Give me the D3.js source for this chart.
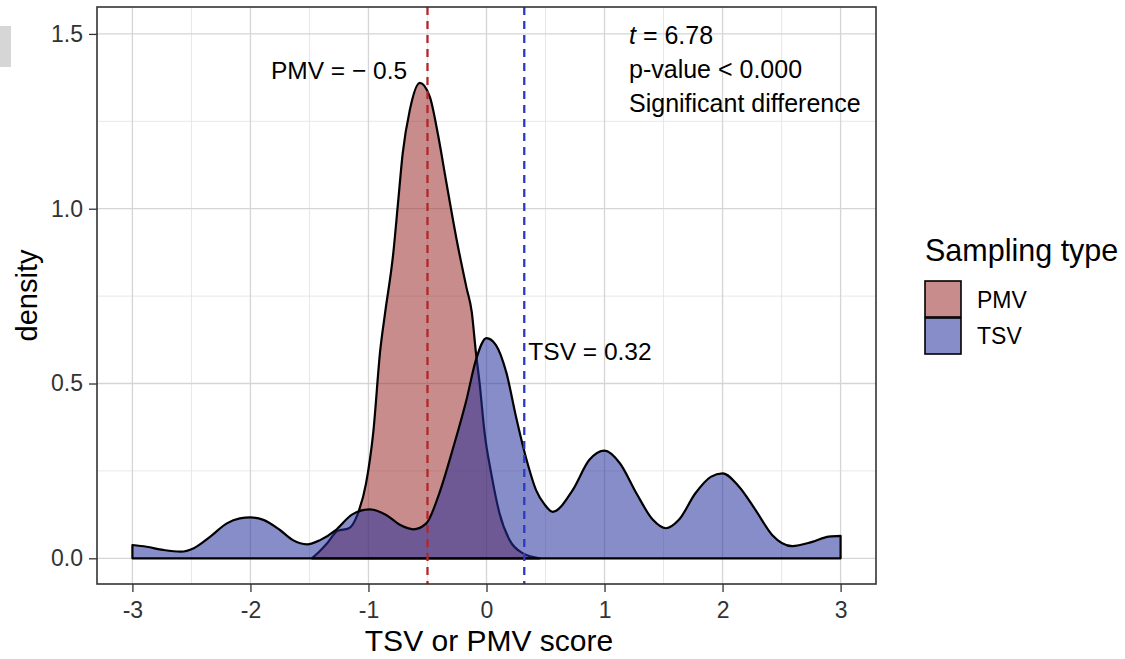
<!DOCTYPE html>
<html lang="en">
<head>
    <meta charset="UTF-8">
    <title>TSV vs PMV density</title>
    <script src="https://d3js.org/d3.v7.min.js"></script>
    <style>
        body { margin: 0; background: #fff; }
        svg { font-family: "Liberation Sans", Arial, Helvetica, sans-serif; }
        .tick text { fill: #333; font-size: 23px; }
        .tick line { stroke: #333; stroke-width: 1.3; }
    </style>
</head>
<body>
    <script>
        // Values
        const pmvScore   = [-1.48, -1.42, -1.35, -1.26, -1.17, -1.09, -1.02, -0.96, -0.90, -0.86, -0.79, -0.75, -0.71, -0.65, -0.565, -0.48, -0.41, -0.34, -0.255, -0.17, -0.125, -0.09, -0.058, -0.016, 0.04, 0.11, 0.196, 0.31, 0.45];
        const pmvDensity = [0.000, 0.018, 0.043, 0.079, 0.085, 0.128, 0.215, 0.358, 0.596, 0.700, 0.872, 1.015, 1.158, 1.282, 1.360, 1.320, 1.210, 1.075, 0.915, 0.775, 0.705, 0.590, 0.500, 0.358, 0.243, 0.129, 0.052, 0.014, 0.000];

        const tsvScore   = [-3.0, -2.88, -2.74, -2.59, -2.48, -2.34, -2.20, -2.09, -2.00, -1.89, -1.75, -1.64, -1.52, -1.41, -1.28, -1.14, -0.99, -0.85, -0.73, -0.62, -0.51, -0.40, -0.28, -0.17, -0.09, 0.00, 0.08, 0.17, 0.25, 0.34, 0.42, 0.49, 0.56, 0.73, 0.87, 1.00, 1.13, 1.27, 1.41, 1.52, 1.63, 1.77, 1.90, 2.00, 2.14, 2.28, 2.42, 2.59, 2.76, 2.90, 3.00];
        const tsvDensity = [0.038, 0.033, 0.024, 0.019, 0.029, 0.062, 0.100, 0.114, 0.117, 0.110, 0.081, 0.052, 0.040, 0.052, 0.080, 0.125, 0.140, 0.124, 0.095, 0.083, 0.100, 0.186, 0.319, 0.453, 0.567, 0.630, 0.610, 0.529, 0.405, 0.281, 0.195, 0.155, 0.133, 0.195, 0.281, 0.308, 0.272, 0.186, 0.110, 0.086, 0.110, 0.186, 0.233, 0.243, 0.205, 0.138, 0.067, 0.035, 0.047, 0.062, 0.064];

        const means = [-0.5, 0.32];            // PMV mean, TSV mean
        const xTicks = [-3, -2, -1, 0, 1, 2, 3];
        const xMinor = [-2.5, -1.5, -0.5, 0.5, 1.5, 2.5];
        const yTicks = [0, 0.5, 1.0, 1.5];
        const yMinor = [0.25, 0.75, 1.25];
        const groups = ["PMV", "TSV"];
        const statLines = ["t = 6.78", "p-value < 0.000", "Significant difference"];

        const W = 1125, H = 659;
        const panel = { left: 97, right: 876, top: 7, bottom: 584 };

        const svg = d3.select("body").append("svg")
            .attr("width", W)
            .attr("height", H);

        const x = d3.scaleLinear().domain([-3.3, 3.3]).range([panel.left, panel.right]);
        const y = d3.scaleLinear().domain([-0.0735, 1.577]).range([panel.bottom, panel.top]);

        const fillCol = { PMV: "#9a2d2d", TSV: "#25309c" };
        const fillOp = 0.55;

        // little grey block on the left edge
        svg.append("rect").attr("x", 0).attr("y", 26).attr("width", 11).attr("height", 41).attr("fill", "#d6d6d6");

        // grid
        const grid = svg.append("g");
        grid.selectAll(".xminor").data(xMinor).enter().append("line")
            .attr("x1", d => x(d)).attr("x2", d => x(d))
            .attr("y1", panel.top).attr("y2", panel.bottom)
            .attr("stroke", "#e4e4e4").attr("stroke-width", 0.9);
        grid.selectAll(".yminor").data(yMinor).enter().append("line")
            .attr("y1", d => y(d)).attr("y2", d => y(d))
            .attr("x1", panel.left).attr("x2", panel.right)
            .attr("stroke", "#e4e4e4").attr("stroke-width", 0.9);
        grid.selectAll(".xmajor").data(xTicks).enter().append("line")
            .attr("x1", d => x(d)).attr("x2", d => x(d))
            .attr("y1", panel.top).attr("y2", panel.bottom)
            .attr("stroke", "#d5d5d5").attr("stroke-width", 1.3);
        grid.selectAll(".ymajor").data(yTicks).enter().append("line")
            .attr("y1", d => y(d)).attr("y2", d => y(d))
            .attr("x1", panel.left).attr("x2", panel.right)
            .attr("stroke", "#d5d5d5").attr("stroke-width", 1.3);

        // densities
        const area = d3.area()
            .x(d => x(d[0]))
            .y0(y(0))
            .y1(d => y(d[1]))
            .curve(d3.curveMonotoneX);

        const series = [
            { key: "PMV", pts: d3.zip(pmvScore, pmvDensity) },
            { key: "TSV", pts: d3.zip(tsvScore, tsvDensity) }
        ];

        svg.selectAll(".dens").data(series).enter().append("path")
            .attr("class", "dens")
            .attr("d", d => area(d.pts))
            .attr("fill", d => fillCol[d.key])
            .attr("fill-opacity", fillOp)
            .attr("stroke", "#000")
            .attr("stroke-width", 2.2)
            .attr("stroke-linejoin", "round");

        // mean lines
        svg.selectAll(".vline").data(means).enter().append("line")
            .attr("x1", d => x(d)).attr("x2", d => x(d))
            .attr("y1", panel.top).attr("y2", panel.bottom)
            .attr("stroke", (d, i) => i === 0 ? "#b3262a" : "#2b3bbf")
            .attr("stroke-width", 2.3)
            .attr("stroke-dasharray", "8,6");

        // panel border
        svg.append("rect")
            .attr("x", panel.left).attr("y", panel.top)
            .attr("width", panel.right - panel.left).attr("height", panel.bottom - panel.top)
            .attr("fill", "none").attr("stroke", "#333").attr("stroke-width", 1.6);

        // axes
        svg.append("g")
            .attr("transform", `translate(0,${panel.bottom})`)
            .call(d3.axisBottom(x).tickValues(xTicks).tickSize(8).tickPadding(10).tickFormat(d => String(d)))
            .call(g => g.select(".domain").remove())
            .selectAll("text").attr("font-family", null).attr("font-size", null);

        svg.append("g")
            .attr("transform", `translate(${panel.left},0)`)
            .call(d3.axisLeft(y).tickValues(yTicks).tickSize(8).tickPadding(6).tickFormat(d3.format(".1f")))
            .call(g => g.select(".domain").remove())
            .selectAll("text").attr("font-family", null).attr("font-size", null);

        // axis titles
        svg.append("text")
            .attr("x", 489).attr("y", 651)
            .attr("text-anchor", "middle").attr("font-size", 30)
            .text("TSV or PMV score");

        svg.append("text")
            .attr("transform", `translate(37,${(panel.top + panel.bottom) / 2}) rotate(-90)`)
            .attr("text-anchor", "middle").attr("font-size", 29)
            .text("density");

        // annotations
        svg.append("text").attr("x", 339).attr("y", 79)
            .attr("text-anchor", "middle").attr("font-size", 24.5)
            .text("PMV = \u2212 0.5");
        svg.append("text").attr("x", 590).attr("y", 360)
            .attr("text-anchor", "middle").attr("font-size", 24.5)
            .text("TSV = 0.32");

        const stat = svg.append("g").attr("font-size", 25);
        statLines.forEach((s, i) => {
            const t = stat.append("text").attr("x", 629).attr("y", 44 + i * 34);
            if (i === 0) {
                t.append("tspan").attr("font-style", "italic").text("t");
                t.append("tspan").text(s.slice(1));
            } else {
                t.text(s);
            }
        });

        // legend
        const leg = svg.append("g");
        leg.append("text").attr("x", 925).attr("y", 261).attr("font-size", 30.5).text("Sampling type");
        groups.forEach((gName, i) => {
            leg.append("rect")
                .attr("x", 925).attr("y", 281 + i * 37)
                .attr("width", 36).attr("height", 36)
                .attr("fill", fillCol[gName]).attr("fill-opacity", fillOp)
                .attr("stroke", "#000").attr("stroke-width", 1.6);
            leg.append("text")
                .attr("x", 977).attr("y", 308 + i * 36)
                .attr("font-size", 23)
                .text(gName);
        });
    </script>
</body>
</html>
